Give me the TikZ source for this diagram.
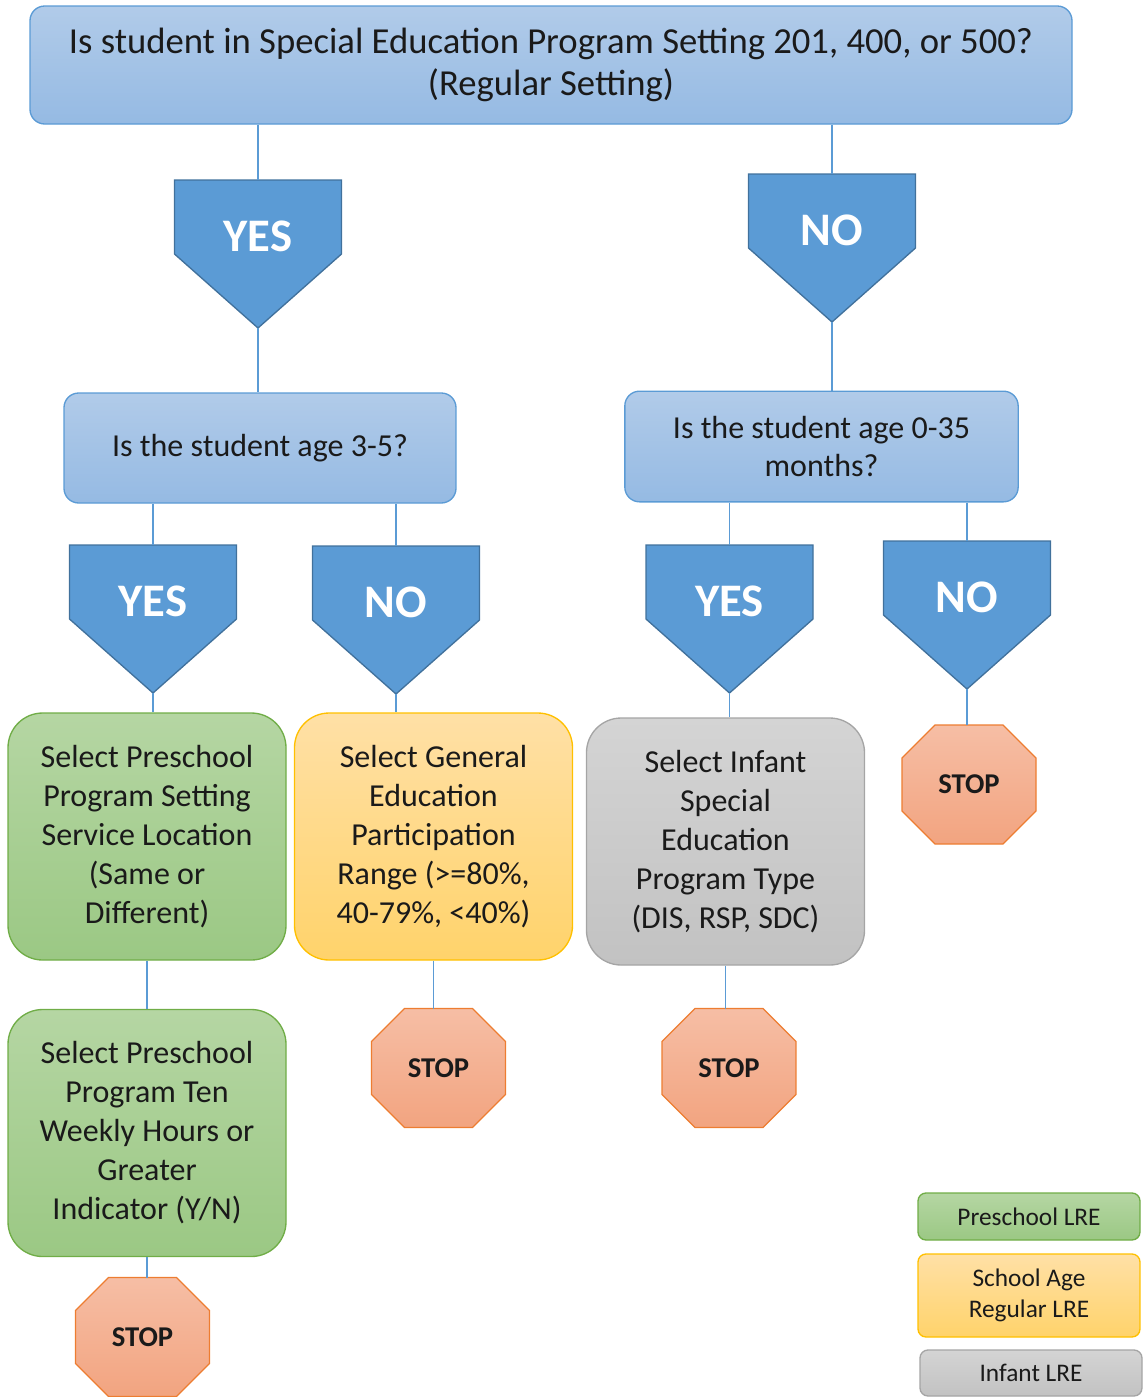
\documentclass[tikz,border=0pt]{standalone}
\usepackage{fontspec}
\setmainfont{Carlito}
\usetikzlibrary{backgrounds}
\definecolor{accblue}{HTML}{5B9BD5}
\definecolor{accblueline}{HTML}{41719C}
\definecolor{qtop}{HTML}{B1CBE9}
\definecolor{qbot}{HTML}{95BAE3}
\definecolor{greenline}{HTML}{70AD47}
\definecolor{greentop}{HTML}{B5D6A3}
\definecolor{greenbot}{HTML}{9BC884}
\definecolor{yelline}{HTML}{FFC000}
\definecolor{yeltop}{HTML}{FFE0A6}
\definecolor{yelbot}{HTML}{FFD36B}
\definecolor{greyline}{HTML}{A5A5A5}
\definecolor{greytop}{HTML}{D4D4D4}
\definecolor{greybot}{HTML}{C2C2C2}
\definecolor{stopline}{HTML}{ED7D31}
\definecolor{stoptop}{HTML}{F6BEA5}
\definecolor{stopbot}{HTML}{F2A480}
\definecolor{txt}{HTML}{1A1A1A}

\begin{document}
\begin{tikzpicture}[x=0.75pt,y=-0.75pt,
    link/.style={draw=accblue, line width=1pt},
    question/.style={draw=accblue, line width=1pt, rounded corners=11pt, top color=qtop, bottom color=qbot,
        text=txt, align=center, font=\fontsize{24}{29}\selectfont},
    answer/.style={rectangle, outer sep=0pt, inner sep=0pt, minimum width=125.25pt, minimum height=111pt,
        text height=23pt, text depth=27.4pt, text=white, font=\bfseries\fontsize{35}{35}\selectfont},
    answer fill/.style={draw=accblueline, line width=1pt, fill=accblue},
    task/.style={rounded corners=26pt, line width=1pt, minimum width=208.5pt, minimum height=185.25pt,
        text=txt, align=center, font=\fontsize{24}{29.25}\selectfont},
    stopsign/.style={rectangle, outer sep=0pt, inner sep=0pt, minimum width=100.5pt, minimum height=89.25pt,
        text=txt, font=\bfseries\fontsize{21.5}{21.5}\selectfont},
    stop fill/.style={draw=stopline, line width=1pt, top color=stoptop, bottom color=stopbot},
    legend/.style={rounded corners=6pt, line width=1pt, minimum width=166.5pt, text=txt, align=center,
        font=\fontsize{19}{23}\selectfont},
    preschool/.style={draw=greenline, top color=greentop, bottom color=greenbot},
    schoolage/.style={draw=yelline, top color=yeltop, bottom color=yelbot},
    infant/.style={draw=greyline, top color=greytop, bottom color=greybot}]

\useasboundingbox (0,0) rectangle (1144,1397);

\node[question, minimum width=781.5pt, minimum height=88.5pt, font=\fontsize{27.5}{32}\selectfont] (top) at (551,65)
    {Is student in Special Education Program Setting 201, 400, or 500?\\(Regular Setting)};

\node[answer] (yes1) at (258,254) {YES};
\node[answer] (no1) at (832,248) {NO};

\node[question, minimum width=294pt, minimum height=82.5pt] (qa) at (260,448) {Is the student age 3-5?};
\node[question, minimum width=295pt, minimum height=83pt] (qb) at (821.5,446.5) {Is the student age 0-35\\months?};

\node[answer] (yes2) at (153,619) {YES};
\node[answer] (no2) at (396,620) {NO};
\node[answer] (yes3) at (729.5,619) {YES};
\node[answer] (no3) at (967,615) {NO};

\node[task, preschool] (pre1) at (147,836.5) {Select Preschool\\Program Setting\\Service Location\\(Same or\\Different)};
\node[task, schoolage] (gen) at (433.5,836.5) {Select General\\Education\\Participation\\Range (>=80\%,\\40-79\%, <40\%)};
\node[task, infant] (inf) at (725.5,841.5) {Select Infant\\Special\\Education\\Program Type\\(DIS, RSP, SDC)};
\node[task, preschool] (pre2) at (147,1133) {Select Preschool\\Program Ten\\Weekly Hours or\\Greater\\Indicator (Y/N)};

\node[stopsign] (stop1) at (969,784.5) {STOP};
\node[stopsign] (stop2) at (438.5,1068) {STOP};
\node[stopsign] (stop3) at (729,1068) {STOP};
\node[stopsign] (stop4) at (142.5,1337) {STOP};

\node[legend, preschool, minimum height=35.25pt] (lgpre) at (1029,1216.5) {Preschool LRE};
\node[legend, schoolage, minimum height=62.25pt] (lgsch) at (1029,1295.5) {School Age\\Regular LRE};
\node[legend, infant, minimum height=34.5pt] (lginf) at (1031,1373) {Infant LRE};

% arrow and stop outlines behind the labels
\begin{scope}[on background layer]
\foreach \n in {yes1,no1,yes2,no2,yes3,no3}
  \path[answer fill] (\n.north west) -- (\n.north east) -- ([yshift=55.5pt]\n.south east) -- (\n.south)
    -- ([yshift=55.5pt]\n.south west) -- cycle;
\foreach \n in {stop1,stop2,stop3,stop4}
  \path[stop fill] ([xshift=24.75pt]\n.north west) -- ([xshift=-24.75pt]\n.north east) -- ([yshift=-24.75pt]\n.north east)
    -- ([yshift=24.75pt]\n.south east) -- ([xshift=-24.75pt]\n.south east) -- ([xshift=24.75pt]\n.south west)
    -- ([yshift=24.75pt]\n.south west) -- ([yshift=-24.75pt]\n.north west) -- cycle;
\end{scope}

\draw[link] (yes1.north |- top.south) -- (yes1.north);
\draw[link] (no1.north |- top.south) -- (no1.north);
\draw[link] (yes1.south) -- (yes1.south |- qa.north);
\draw[link] (no1.south) -- (no1.south |- qb.north);

\draw[link] (yes2.north |- qa.south) -- (yes2.north);
\draw[link] (no2.north |- qa.south) -- (no2.north);
\draw[link] (yes3.north |- qb.south) -- (yes3.north);
\draw[link] (no3.north |- qb.south) -- (no3.north);

\draw[link] (yes2.south) -- (yes2.south |- pre1.north);
\draw[link] (no2.south) -- (no2.south |- gen.north);
\draw[link] (yes3.south) -- (yes3.south |- inf.north);
\draw[link] (no3.south) -- (no3.south |- stop1.north);

\draw[link] (pre1.south) -- (pre2.north);
\draw[link] (gen.south) -- (gen.south |- stop2.north);
\draw[link] (inf.south) -- (inf.south |- stop3.north);
\draw[link] (pre2.south) -- (pre2.south |- stop4.north);

\end{tikzpicture}
\end{document}
